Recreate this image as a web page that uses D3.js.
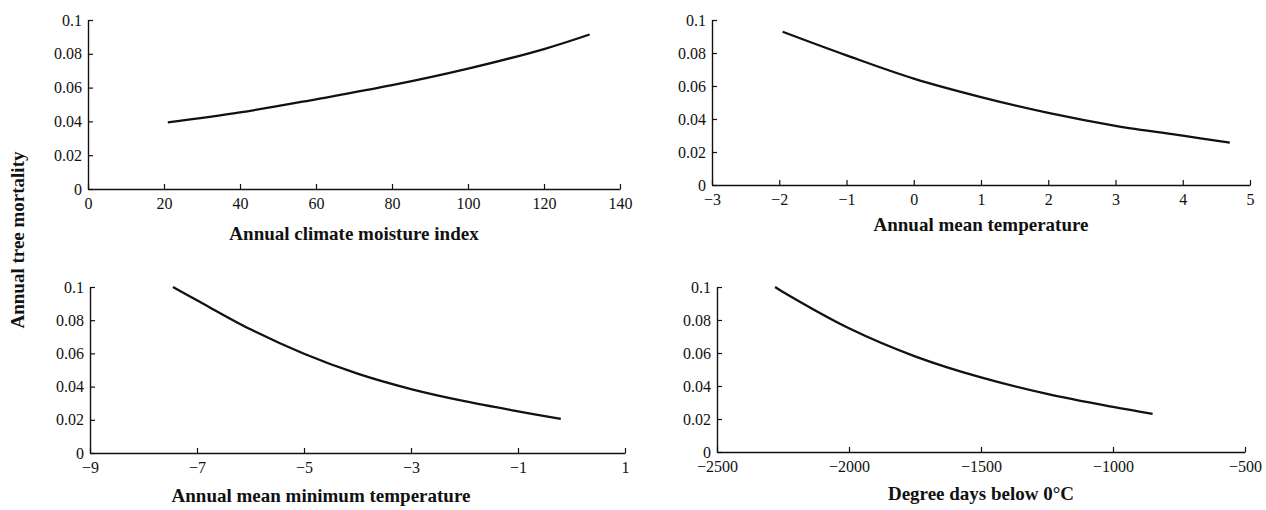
<!DOCTYPE html>
<html>
<head>
<meta charset="utf-8">
<script src="https://cdn.jsdelivr.net/npm/d3@7"></script>
<style>
  body { margin: 0; background: #fff; }
</style>
</head>
<body>
<svg id="chart" width="1266" height="510"></svg>
<script>
'use strict';

var SERIF = '"Liberation Serif", "DejaVu Serif", serif';

// shared y axis
var mortalityTicks = [0, 0.02, 0.04, 0.06, 0.08, 0.1];

// panel 1 - climate moisture index
var moistureTicks = [0, 20, 40, 60, 80, 100, 120, 140];
var moistureX = [21, 40, 60, 80, 100, 120, 132];
var moistureY = [0.0394, 0.0453, 0.0531, 0.0614, 0.0712, 0.0828, 0.0914];

// panel 2 - annual mean temperature
var tempTicks = [-3, -2, -1, 0, 1, 2, 3, 4, 5];
var tempX = [-1.95, -1, 0, 1, 2, 3, 4, 4.7];
var tempY = [0.0929, 0.0786, 0.0645, 0.0533, 0.0437, 0.0359, 0.0299, 0.0257];

// panel 3 - annual mean minimum temperature
var minTempTicks = [-9, -7, -5, -3, -1, 1];
var minTempX = [-7.45, -7, -6, -5, -4, -3, -2, -1, -0.2];
var minTempY = [0.1, 0.092, 0.0745, 0.0598, 0.0478, 0.0385, 0.0312, 0.0251, 0.0206];

// panel 4 - degree days below 0
var degDaysTicks = [-2500, -2000, -1500, -1000, -500];
var degDaysX = [-2280, -2250, -2000, -1750, -1500, -1250, -1000, -850];
var degDaysY = [0.1, 0.097, 0.075, 0.058, 0.0452, 0.0352, 0.0273, 0.0231];

var svg = d3.select('#chart');

function yFormat(d) {
  return d === 0 ? '0' : d3.format('.2~f')(d);
}

function styleAxis(a) {
  a.attr('font-family', SERIF).attr('font-size', 16);
  a.select('.domain').attr('stroke', '#111').attr('stroke-width', 1.4);
  a.selectAll('.tick line').attr('stroke', '#111').attr('stroke-width', 1.2);
  a.selectAll('.tick text').attr('fill', '#111');
}

function drawPanel(p) {
  var x = d3.scaleLinear().domain(d3.extent(p.ticks)).range([p.left, p.right]),
      y = d3.scaleLinear().domain([0, 0.1]).range([p.bottom, p.top]),
      g = svg.append('g'),
      line;

  g.append('g')
    .attr('transform', 'translate(0,' + p.bottom + ')')
    .call(d3.axisBottom(x).tickValues(p.ticks).tickSizeInner(-5).tickSizeOuter(0)
      .tickPadding(9).tickFormat(d3.format('d')))
    .call(styleAxis);

  g.append('g')
    .attr('transform', 'translate(' + p.left + ',0)')
    .call(d3.axisLeft(y).tickValues(mortalityTicks).tickSizeInner(-5).tickSizeOuter(0)
      .tickPadding(6).tickFormat(yFormat))
    .call(styleAxis);

  line = d3.line()
    .x(function (d) { return x(d[0]); })
    .y(function (d) { return y(d[1]); })
    .curve(d3.curveCatmullRom);

  g.append('path')
    .datum(d3.zip(p.xs, p.ys))
    .attr('fill', 'none')
    .attr('stroke', '#111')
    .attr('stroke-width', 2.3)
    .attr('d', line);

  g.append('text')
    .attr('x', p.titleX || (p.left + p.right) / 2)
    .attr('y', p.titleY)
    .attr('text-anchor', 'middle')
    .attr('font-family', SERIF)
    .attr('font-size', 19)
    .attr('font-weight', 'bold')
    .attr('fill', '#111')
    .text(p.title);
}

drawPanel({ ticks: moistureTicks, xs: moistureX, ys: moistureY, left: 88, right: 620, top: 20, bottom: 189,
  title: 'Annual climate moisture index', titleY: 240 });
drawPanel({ ticks: tempTicks, xs: tempX, ys: tempY, left: 712, right: 1250, top: 20, bottom: 185,
  title: 'Annual mean temperature', titleY: 231 });
drawPanel({ ticks: minTempTicks, xs: minTempX, ys: minTempY, left: 90, right: 625, top: 287, bottom: 453,
  title: 'Annual mean minimum temperature', titleX: 321, titleY: 502 });
drawPanel({ ticks: degDaysTicks, xs: degDaysX, ys: degDaysY, left: 717, right: 1245, top: 287, bottom: 452,
  title: 'Degree days below 0°C', titleY: 500 });

svg.append('text')
  .attr('transform', 'translate(24,240) rotate(-90)')
  .attr('text-anchor', 'middle')
  .attr('font-family', SERIF)
  .attr('font-size', 19)
  .attr('font-weight', 'bold')
  .attr('fill', '#111')
  .text('Annual tree mortality');
</script>
</body>
</html>
